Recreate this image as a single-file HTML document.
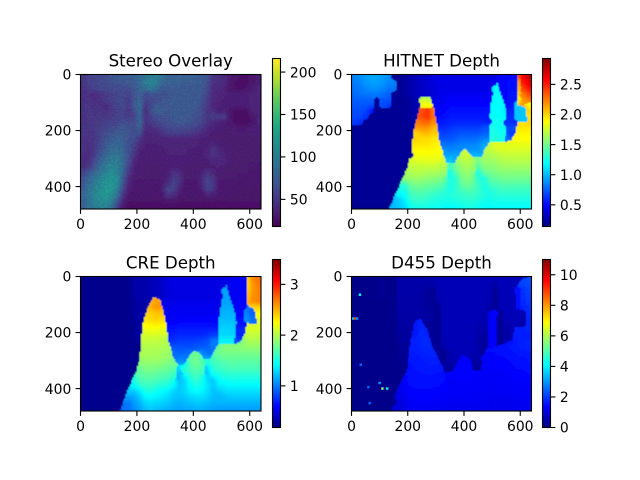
<!DOCTYPE html>
<html lang="en">
<head>
<meta charset="utf-8">
<title>Depth comparison</title>
<style>
html,body{margin:0;padding:0;background:#fff;width:640px;height:480px;overflow:hidden}
svg{display:block}
text{font-family:"DejaVu Sans","Liberation Sans",sans-serif;fill:#000}
</style>
</head>
<body>
<svg id="fig" xmlns="http://www.w3.org/2000/svg" width="640" height="480" viewBox="0 0 640 480">
<defs>
<filter id="soft" x="-5%" y="-5%" width="110%" height="110%"><feGaussianBlur stdDeviation="0.5"/></filter>
<filter id="grain" x="0" y="0" width="100%" height="100%">
<feTurbulence type="fractalNoise" baseFrequency="0.75" numOctaves="2" seed="7"/>
<feColorMatrix type="matrix" values="0 0 0 0 1  0 0 0 0 1  0 0 0 0 1  3.5 0 0 0 -1.6"/>
</filter>
</defs>
<rect width="640" height="480" fill="#fff"/>
</svg>
<script>
const xTickLabels = [0, 200, 400, 600];
const yTickLabels = [0, 200, 400];
const overlayTicks = [50, 100, 150, 200];
const hitnetTicks = [0.5, 1.0, 1.5, 2.0, 2.5];
const creTicks = [1, 2, 3];
const d455Ticks = [0, 2, 4, 6, 8, 10];
const overlayRange = [18, 216];
const hitnetRange = [0.14, 2.93];
const creRange = [0.18, 3.49];
const d455Range = [0, 11];

/* Stereo overlay intensity, 32 columns by 24 rows */
const overlayGrid = [
[50,56,56,60,62,68,70,72,74,76,82,90,96,98,88,78,76,80,74,78,74,72,66,46,44,40,32,29,27,27,30,34],
[46,54,56,58,60,64,66,68,68,72,82,96,104,94,80,76,76,76,72,72,72,72,62,44,42,40,30,27,26,27,30,34],
[44,50,54,58,58,58,60,60,62,68,78,86,94,80,70,70,70,70,70,70,70,70,58,42,40,36,30,27,27,28,33,36],
[44,44,42,46,50,54,56,58,54,64,76,60,66,66,66,66,70,70,70,70,70,70,56,40,38,36,34,34,34,34,36,36],
[44,46,42,44,50,54,58,58,50,68,80,58,58,60,66,68,70,70,70,70,70,64,52,40,36,34,34,34,34,34,36,36],
[44,48,44,44,40,50,56,58,50,68,85,46,58,70,68,70,70,70,70,70,70,62,50,38,36,34,34,34,34,34,36,36],
[44,48,46,48,44,48,54,56,48,60,82,42,62,76,72,68,70,70,70,70,66,60,46,42,34,36,30,26,26,28,36,36],
[44,48,48,48,48,50,54,56,50,56,78,44,54,62,64,66,70,70,70,68,64,58,46,52,48,52,28,25,24,24,30,36],
[44,48,50,50,52,54,56,60,58,60,80,46,50,56,60,64,66,68,68,66,62,56,46,40,36,34,30,26,24,24,28,36],
[46,48,48,52,56,58,64,68,66,62,74,42,42,46,52,58,60,60,60,58,54,48,40,36,34,32,32,32,30,32,34,34],
[46,46,48,56,62,66,72,72,66,62,62,38,38,40,44,50,52,52,50,48,44,42,36,34,32,32,32,32,32,32,34,34],
[44,46,48,56,66,72,76,72,66,60,48,36,36,36,38,38,38,38,38,38,36,34,34,32,32,32,32,32,32,32,32,32],
[44,44,48,58,70,78,80,76,64,54,40,35,35,35,36,36,36,36,36,36,36,34,34,38,34,32,32,32,32,32,32,32],
[46,42,48,62,74,84,84,78,64,50,36,34,34,34,34,36,36,36,36,34,34,34,36,46,38,34,32,32,32,32,32,32],
[42,42,52,70,80,90,90,80,64,46,34,33,33,33,33,35,35,35,35,35,33,35,38,44,40,36,32,32,32,32,32,32],
[42,44,60,76,88,96,96,84,60,38,33,33,33,33,33,33,35,35,33,33,33,33,33,38,38,38,33,32,32,32,32,32],
[44,50,68,84,94,102,98,82,54,36,32,32,32,32,32,34,34,34,32,32,32,32,32,34,36,33,32,32,32,32,30,30],
[56,70,80,90,100,108,102,78,48,34,32,32,32,32,32,34,44,42,32,32,32,36,46,38,32,32,32,32,32,32,30,30],
[64,80,90,100,110,114,108,74,42,33,32,32,32,32,32,36,50,46,32,32,32,38,54,46,32,32,32,32,30,30,30,30],
[68,84,95,105,114,116,106,68,38,31,30,30,30,30,32,42,56,44,30,30,30,38,56,48,30,30,30,30,30,30,30,30],
[74,90,100,110,116,116,98,58,34,30,30,30,30,30,34,58,54,36,30,30,30,34,54,46,30,30,30,30,29,29,29,29],
[80,90,104,112,118,110,88,48,31,30,30,30,30,30,30,46,42,32,30,30,30,30,36,34,30,30,28,28,28,28,28,28],
[76,90,100,106,112,100,72,38,28,28,28,28,28,28,28,30,30,28,28,28,28,28,28,28,28,28,28,28,28,28,28,28],
[80,86,96,100,100,88,54,30,26,26,26,26,26,26,26,26,26,26,26,26,26,26,26,26,26,26,26,26,26,26,26,26]
];

/* HITNET depth in centimetres */
const hitnetGrid = [
[85,88,92,95,95,92,88,20,20,22,26,30,33,36,40,42,42,42,42,42,42,42,42,42,42,42,50,50,50,230,260,275],
[82,85,90,92,92,90,85,85,20,22,26,30,33,36,40,42,42,42,42,42,42,42,42,42,42,45,50,50,52,215,250,265],
[80,82,85,88,88,85,82,80,20,22,26,30,33,35,38,42,42,42,42,42,42,42,42,42,42,115,48,50,52,210,240,255],
[78,80,82,82,82,80,75,22,20,22,26,30,33,35,38,42,45,45,45,45,45,45,45,45,45,118,50,50,55,200,225,240],
[75,75,75,75,22,72,72,22,20,20,24,28,170,170,42,42,45,48,48,48,48,48,48,48,48,118,118,50,55,190,215,225],
[72,72,72,70,22,70,65,20,20,20,24,28,185,190,45,45,48,50,50,50,50,50,50,50,50,118,118,52,55,103,215,190],
[70,70,68,55,20,20,20,20,20,20,22,26,235,245,225,48,50,52,52,52,52,52,52,52,52,120,118,112,58,103,103,200],
[68,68,62,20,20,20,20,20,20,20,22,24,238,245,228,50,52,55,55,55,55,55,55,55,55,120,120,115,60,103,103,195],
[65,60,20,20,20,20,20,20,20,20,22,225,228,232,220,55,55,58,58,58,58,58,58,58,58,122,122,60,60,200,195,200],
[20,20,20,20,20,20,20,20,20,20,22,215,218,218,208,60,60,62,65,65,65,65,65,70,124,124,120,65,70,195,195,195],
[20,20,20,20,20,20,20,20,20,20,20,200,205,207,202,70,65,68,70,72,72,72,72,75,125,125,122,70,65,190,190,190],
[20,20,20,20,20,20,20,20,20,20,20,200,198,198,195,195,72,72,75,78,78,78,80,85,128,128,125,80,70,188,188,188],
[20,20,20,20,20,20,20,20,20,20,20,195,195,195,192,190,80,80,82,85,85,85,88,95,170,180,180,180,182,182,182,182],
[20,20,20,20,20,20,20,20,20,20,20,190,190,190,190,188,90,85,88,88,90,90,90,95,170,175,178,178,178,178,178,178],
[20,20,20,20,20,20,20,20,20,20,20,185,185,185,185,185,95,95,95,170,175,100,100,165,165,168,170,172,172,172,172,172],
[20,20,20,20,20,20,20,20,20,20,178,178,180,180,180,178,175,105,95,165,170,165,150,160,160,162,165,168,168,168,168,168],
[20,20,20,20,20,20,20,20,20,20,170,172,172,172,172,170,165,135,150,160,165,160,140,155,155,158,160,162,162,162,162,162],
[20,20,20,20,20,20,20,20,20,20,165,168,168,165,165,163,160,125,140,155,160,155,125,145,150,152,155,155,155,155,155,155],
[20,20,20,20,20,20,20,20,20,160,160,162,160,158,156,155,150,125,130,150,155,150,130,125,142,146,148,150,150,150,150,150],
[20,20,20,20,20,20,20,20,20,135,150,152,152,150,148,146,140,125,130,145,150,145,135,125,135,140,142,142,142,142,142,142],
[20,20,20,20,20,20,20,20,125,125,140,145,145,142,140,138,132,125,130,138,142,140,135,125,128,132,135,135,135,135,135,135],
[20,20,20,20,20,20,20,20,115,120,135,138,138,135,132,130,128,128,130,132,135,135,132,128,125,128,130,130,130,130,130,130],
[20,20,20,20,20,20,20,100,105,115,130,132,132,130,128,126,125,125,126,128,130,130,128,125,122,125,125,125,125,125,125,125],
[18,18,18,18,18,18,18,100,105,110,122,125,125,125,122,122,120,120,120,122,125,125,122,120,120,120,120,120,120,120,120,120]
];

/* Image-coordinate outlines of depth regions in the HITNET panel */
const hitnetEdgeColumns = [134,166,198,214,220,233,249,261,279,293,305,315,329,338,368,386,404,421,436,463,475,490,546,570,585,590,625,617,588,588,590,640,640];
const hitnetEdgeRows = [480,406,335,270,204,157,91,80,82,121,192,246,293,315,315,281,266,281,296,296,264,242,240,232,204,169,169,115,109,68,0,0,480];
const hitnetPatchColumns = [517,500,488,488,546,552,530];
const hitnetPatchRows = [30,80,180,250,250,133,70];

/* CRE depth in centimetres */
const creGrid = [
[22,22,22,22,22,22,22,22,22,32,32,32,35,38,42,48,50,50,50,50,50,50,50,50,50,50,55,55,55,235,262,270],
[22,22,22,22,22,22,22,22,22,32,32,32,35,38,42,48,50,50,50,50,50,50,50,50,50,50,55,55,55,235,258,268],
[22,22,22,22,22,22,22,22,22,30,32,32,35,38,42,48,50,50,50,50,50,50,50,50,50,110,55,55,58,240,258,265],
[22,22,22,22,22,22,22,22,22,30,32,32,35,35,42,48,50,50,50,50,50,50,50,50,52,112,55,55,58,245,260,265],
[22,22,22,22,22,22,22,22,22,28,30,30,250,255,50,50,52,52,52,52,52,52,52,52,52,112,112,55,60,250,262,265],
[22,22,22,22,22,22,22,22,22,28,30,30,250,260,52,52,55,55,55,55,55,55,55,55,52,115,115,58,60,100,235,240],
[22,22,22,22,22,22,22,22,22,28,30,30,240,245,245,55,55,55,55,55,55,55,55,55,55,118,118,58,60,100,90,225],
[22,22,22,22,22,22,22,22,22,28,30,235,238,240,238,55,55,58,58,58,58,58,58,58,58,120,120,118,62,105,95,220],
[22,22,22,22,22,22,22,22,22,25,28,228,230,232,228,60,60,62,62,62,62,62,62,62,122,125,125,122,65,215,210,215],
[22,22,22,22,22,22,22,22,22,25,30,218,220,220,218,65,65,68,68,68,68,68,68,70,128,128,128,125,72,212,212,212],
[22,22,22,22,22,22,22,22,22,25,30,210,212,212,210,70,70,72,72,72,72,72,75,80,130,130,130,70,70,205,205,205],
[22,22,22,22,22,22,22,22,22,22,28,205,205,205,202,200,75,78,78,78,80,82,85,100,138,138,138,85,180,198,198,198],
[22,22,22,22,22,22,22,22,22,22,22,200,200,200,198,198,85,85,85,85,88,88,90,100,175,185,185,185,188,190,190,190],
[22,22,22,22,22,22,22,22,22,22,22,198,198,198,195,192,95,90,92,95,175,105,95,95,178,182,182,182,182,182,182,182],
[22,22,22,22,22,22,22,22,22,22,22,195,195,195,192,190,95,100,100,175,182,165,110,165,172,175,175,175,175,175,175,175],
[22,22,22,22,22,22,22,22,22,22,188,188,188,188,185,182,180,110,145,170,178,170,150,160,165,168,170,170,170,170,170,170],
[22,22,22,22,22,22,22,22,22,22,175,182,182,180,178,175,170,130,155,165,172,165,130,155,158,162,165,165,165,165,165,165],
[22,22,22,22,22,22,22,22,22,22,170,175,175,172,170,168,160,120,145,158,165,158,125,145,150,155,155,155,155,155,155,155],
[22,22,22,22,22,22,22,22,22,150,165,168,168,165,162,160,150,120,130,150,158,150,130,125,142,145,148,148,148,148,148,148],
[22,22,22,22,22,22,22,22,22,140,155,160,160,155,152,150,140,125,130,145,150,145,135,125,135,138,140,140,140,140,140,140],
[22,22,22,22,22,22,22,22,125,125,135,150,150,145,142,138,128,125,130,138,142,140,132,122,125,130,132,132,132,132,132,132],
[22,22,22,22,22,22,22,22,110,115,125,140,142,138,135,130,125,122,125,130,132,132,128,122,120,122,125,125,125,125,125,125],
[22,22,22,22,22,22,22,22,100,110,118,130,132,130,128,125,120,118,120,122,125,125,122,118,118,118,118,118,118,118,118,118],
[22,22,22,22,22,22,22,95,98,105,112,122,125,122,120,118,115,113,115,115,118,118,115,113,112,112,112,112,112,112,112,112]
];

/* Image-coordinate outlines of depth regions in the CRE panel */
const creEdgeColumns = [140,170,197,211,220,235,259,282,300,312,330,344,365,383,405,425,439,460,478,490,544,567,585,589,627,615,589,589,640,640];
const creEdgeRows = [480,400,340,292,173,120,72,84,149,233,292,313,314,287,263,275,296,296,257,241,241,233,203,167,170,113,111,0,0,480];
const crePatchColumns = [517,500,488,488,544,553,550,526];
const crePatchRows = [30,90,180,250,250,167,137,66];

/* D455 depth in centimetres */
const d455Grid = [
[12,12,12,12,12,20,12,12,45,45,45,45,45,45,50,60,60,60,60,60,60,60,60,60,60,60,60,60,60,60,210,220],
[12,12,12,12,12,22,12,15,45,45,45,45,45,42,42,60,60,60,60,60,60,60,60,60,55,38,60,60,60,60,205,215],
[12,12,12,12,12,22,12,15,45,45,45,45,45,30,22,60,60,60,60,60,60,60,60,60,55,28,60,60,60,155,190,205],
[12,12,12,12,12,22,12,15,42,42,42,42,42,28,22,55,60,60,60,60,60,60,60,60,50,25,58,60,60,150,185,200],
[12,12,12,12,12,12,12,12,40,42,42,42,42,28,22,45,60,60,60,60,60,60,60,60,50,25,58,60,60,150,180,195],
[12,12,12,12,12,12,12,12,40,42,42,42,42,30,22,30,60,60,60,60,60,60,60,60,40,30,60,60,60,145,175,185],
[12,12,12,12,12,12,12,12,38,42,42,42,42,35,24,24,60,60,60,60,60,60,60,52,125,140,30,60,60,60,60,180],
[12,12,12,12,12,12,12,12,38,40,40,40,40,45,28,22,60,60,60,60,60,60,60,52,125,140,28,60,60,60,45,175],
[12,12,12,12,12,12,12,12,35,38,38,160,175,22,22,22,60,60,60,60,60,60,52,50,125,140,28,52,55,55,40,175],
[12,12,12,12,12,12,12,12,32,35,38,160,178,28,25,22,60,60,60,60,60,60,50,42,125,140,28,42,55,170,170,175],
[12,12,12,12,12,12,12,12,30,32,38,165,180,170,25,22,60,60,60,60,60,60,45,32,125,140,25,42,45,170,170,165],
[12,12,12,12,12,12,12,12,25,30,38,170,180,178,30,22,58,60,60,60,60,60,38,30,125,140,25,45,150,165,170,175],
[12,12,12,12,12,12,12,12,22,28,170,170,176,178,25,25,48,60,60,60,60,60,42,35,125,125,155,155,160,165,170,175],
[12,12,12,12,12,12,12,12,20,25,165,165,170,175,175,28,25,48,60,60,60,60,50,30,145,145,150,150,155,160,160,165],
[12,12,12,12,12,12,12,12,18,22,165,162,166,170,170,25,22,44,55,135,135,45,42,135,140,140,142,145,150,155,155,160],
[12,12,12,12,12,12,12,12,16,16,155,160,162,165,167,165,30,38,50,135,145,35,35,140,135,135,140,140,145,150,150,155],
[12,12,12,12,12,12,12,12,14,14,155,157,160,160,162,160,40,30,135,140,142,130,30,130,130,132,135,135,140,145,145,150],
[12,12,12,12,12,12,12,12,14,14,150,152,155,156,156,155,150,135,135,140,140,135,135,130,130,130,132,132,135,140,140,145],
[12,12,12,12,12,12,12,12,14,135,150,150,150,152,152,152,145,132,132,135,135,132,130,128,128,128,130,130,132,135,135,138],
[12,12,12,12,12,12,12,12,12,130,145,147,147,147,147,145,140,132,130,132,132,130,128,126,126,126,128,128,130,132,132,135],
[12,12,12,12,12,12,12,12,115,125,140,143,143,143,140,140,136,130,128,130,130,128,126,125,125,125,126,126,128,130,130,132],
[12,12,12,12,12,12,12,14,110,120,135,137,137,137,135,135,130,126,126,128,128,126,125,125,122,122,122,122,124,125,125,128],
[12,12,12,12,12,12,12,12,105,115,130,133,133,133,130,130,126,124,124,124,124,124,124,122,120,120,120,120,122,122,122,125],
[12,12,12,12,12,12,12,100,100,110,125,130,130,130,127,125,124,122,122,122,122,122,122,120,118,118,118,118,120,120,120,122]
];

/* Image-coordinate outlines of depth regions in the D455 panel */
const d455EdgeColumns = [142,160,196,208,225,243,267,290,320,332,362,392,421,433,457,480,516,570,585,582,610,640,640];
const d455EdgeRows = [480,410,340,244,160,150,185,257,316,346,335,280,292,335,335,257,250,227,173,42,6,0,480];
const d455PatchColumns = [501,487,487,516,513];
const d455PatchRows = [120,125,256,256,137];

/* Isolated D455 outlier readings in image coordinates and centimetres */
const speckleColumn = [30, 6, 13, 20, 110, 127, 100, 60, 65, 33];
const speckleRow = [65, 150, 150, 150, 400, 400, 380, 395, 452, 315];
const speckleDepth = [420, 350, 880, 300, 560, 400, 300, 250, 250, 250];

const imageWidth = 640;
const imageHeight = 480;
const svgNS = 'http://www.w3.org/2000/svg';
const fig = document.getElementById('fig');

const viridisStops = ['#440154','#482475','#414487','#355f8d','#2a788e','#21918c','#22a884','#44bf70','#7ad151','#bddf26','#fde725'];

function viridis(t) {
  t = Math.max(0, Math.min(1, t));
  const p = t * (viridisStops.length - 1);
  const i = Math.min(viridisStops.length - 2, Math.floor(p));
  const f = p - i;
  const a = parseInt(viridisStops[i].slice(1), 16);
  const b = parseInt(viridisStops[i + 1].slice(1), 16);
  const ch = s => Math.round(((a >> s) & 255) * (1 - f) + ((b >> s) & 255) * f);
  return 'rgb(' + ch(16) + ',' + ch(8) + ',' + ch(0) + ')';
}

function jet(t) {
  t = Math.max(0, Math.min(1, t));
  const clip = v => Math.round(255 * Math.max(0, Math.min(1, v)));
  const r = Math.min(4 * t - 1.5, -4 * t + 4.5);
  const g = Math.min(4 * t - 0.5, -4 * t + 3.5);
  const b = Math.min(4 * t + 0.5, -4 * t + 2.5);
  return 'rgb(' + clip(r) + ',' + clip(g) + ',' + clip(b) + ')';
}

function node(tag, attrs, parent) {
  const el = document.createElementNS(svgNS, tag);
  for (const k in attrs) el.setAttribute(k, attrs[k]);
  parent.appendChild(el);
  return el;
}

function insideOutline(columns, rows, x, y) {
  let inside = false;
  for (let i = 0, j = columns.length - 1; i < columns.length; j = i++) {
    if ((rows[i] > y) !== (rows[j] > y) &&
        x < (columns[j] - columns[i]) * (y - rows[i]) / (rows[j] - rows[i]) + columns[i]) {
      inside = !inside;
    }
  }
  return inside;
}

/* Index of the first outline holding the point, or 0 for the background. */
function regionAt(outlines, x, y) {
  for (let k = 0; k < outlines.length; k++) {
    if (insideOutline(outlines[k][0], outlines[k][1], x, y)) return k + 1;
  }
  return 0;
}

/* Reads the grid at a fractional position. Only cells in the same region
   contribute, and strong steps stay on one side so edges stay crisp. */
function sampleGrid(p, mask, u, v, side) {
  const grid = p.grid;
  const rows = grid.length;
  const cols = grid[0].length;
  const fi = Math.floor(u);
  const fj = Math.floor(v);
  const i0 = Math.max(0, Math.min(cols - 1, fi));
  const j0 = Math.max(0, Math.min(rows - 1, fj));
  const i1 = Math.max(0, Math.min(cols - 1, fi + 1));
  const j1 = Math.max(0, Math.min(rows - 1, fj + 1));
  const fu = Math.max(0, Math.min(1, u - fi));
  const fv = Math.max(0, Math.min(1, v - fj));
  const spots = [[j0, i0, (1 - fu) * (1 - fv)], [j0, i1, fu * (1 - fv)], [j1, i0, (1 - fu) * fv], [j1, i1, fu * fv]];
  let kept = mask ? spots.filter(s => mask[s[0]][s[1]] === side) : spots;
  if (kept.length === 0) {
    let best = null;
    let bestDist = Infinity;
    for (let j = Math.max(0, j0 - 3); j <= Math.min(rows - 1, j0 + 3); j++) {
      for (let i = Math.max(0, i0 - 3); i <= Math.min(cols - 1, i0 + 3); i++) {
        if (mask[j][i] !== side) continue;
        const d = (i - u) * (i - u) + (j - v) * (j - v);
        if (d < bestDist) { bestDist = d; best = [j, i, 1]; }
      }
    }
    kept = best ? [best] : spots;
  }
  let total = 0;
  let mean = 0;
  kept.forEach(s => { total += s[2]; });
  if (total <= 0) {
    kept = [[kept[0][0], kept[0][1], 1]];
    total = 1;
  }
  kept.forEach(s => { mean += grid[s[0]][s[1]] * s[2] / total; });
  const vals = kept.map(s => grid[s[0]][s[1]]);
  const lo = Math.min(...vals);
  const hi = Math.max(...vals);
  if (hi - lo < p.edgeGap) return mean;
  const mid = (lo + hi) / 2;
  const upper = mean >= mid;
  let sum = 0;
  let weight = 0;
  kept.forEach(s => {
    const q = grid[s[0]][s[1]];
    if ((q >= mid) === upper) { sum += q * s[2]; weight += s[2]; }
  });
  return weight > 0 ? sum / weight : mean;
}

function drawPanel(p) {
  const panel = node('g', {}, fig);
  
  
  const axisX = v => p.left + v / imageWidth * p.width;
  const axisY = v => p.top + v / imageHeight * p.height;
  const norm = v => (v * p.unit - p.range[0]) / (p.range[1] - p.range[0]);

  const clip = node('clipPath', { id: 'clip-' + p.key }, fig.querySelector('defs'));
  node('rect', { x: p.left, y: p.top, width: p.width, height: p.height }, clip);

  const clipped = node('g', { 'clip-path': 'url(#clip-' + p.key + ')' }, panel);
  
  
  const soft = node('g', { filter: 'url(#soft)' }, clipped);

  const gridRows = p.grid.length;
  const gridCols = p.grid[0].length;
  const cellW = imageWidth / gridCols;
  const cellH = imageHeight / gridRows;
  const outlines = p.outlines || null;
  const mask = outlines ? p.grid.map((row, j) => row.map((_, i) =>
    regionAt(outlines, (i + 0.5) * cellW, (j + 0.5) * cellH))) : null;

  const rows = gridRows * p.sub;
  const cols = gridCols * p.sub;
  for (let r = 0; r < rows; r++) {
    const v = (r + 0.5) / p.sub - 0.5;
    const rowY = (r + 0.5) * imageHeight / rows;
    const colour = q => {
      const colX = (q + 0.5) * imageWidth / cols;
      const side = outlines ? regionAt(outlines, colX, rowY) : 0;
      return p.cmap(norm(sampleGrid(p, mask, (q + 0.5) / p.sub - 0.5, v, side)));
    };
    let c = 0;
    let fill = colour(0);
    while (c < cols) {
      let end = c + 1;
      let next = null;
      while (end < cols) {
        next = colour(end);
        if (next !== fill) break;
        end++;
      }
      let x0 = axisX(c * imageWidth / cols);
      let x1 = axisX(end * imageWidth / cols);
      let y0 = axisY(r * imageHeight / rows);
      let y1 = axisY((r + 1) * imageHeight / rows);
      if (c === 0) x0 -= 6;
      if (end === cols) x1 += 6;
      if (r === 0) y0 -= 6;
      if (r === rows - 1) y1 += 6;
      const cell = node('rect', {
        x: x0.toFixed(2), y: y0.toFixed(2),
        width: (x1 - x0 + 0.3).toFixed(2), height: (y1 - y0 + 0.3).toFixed(2),
        fill: fill, 'shape-rendering': 'crispEdges'
      }, soft);
      
      
      c = end;
      fill = next;
    }
  }

  if (p.grain) {
    const grain = node('rect', { x: p.left, y: p.top, width: p.width, height: p.height, fill: '#fff', filter: 'url(#grain)', opacity: 0.18, style: 'mix-blend-mode:overlay' }, clipped);
    
    
  }

  if (p.speckles) {
    p.speckles.x.forEach((sx, i) => {
      const dot = node('rect', {
        x: (axisX(sx) - 1.2).toFixed(2), y: (axisY(p.speckles.y[i]) - 1.2).toFixed(2),
        width: 2.4, height: 2.4, fill: p.cmap(norm(p.speckles.v[i]))
      }, clipped);
      
      
    });
  }

  const frame = node('rect', { x: p.left, y: p.top, width: p.width, height: p.height, fill: 'none', stroke: '#000', 'stroke-width': 1.1 }, panel);
  
  

  xTickLabels.forEach(v => {
    const x = axisX(v);
    const bottom = p.top + p.height;
    const tick = node('line', { x1: x, x2: x, y1: bottom, y2: bottom + 4.9, stroke: '#000', 'stroke-width': 1.1 }, panel);
    
    
    const label = node('text', { x: x, y: bottom + 20, 'font-size': 13.9, 'text-anchor': 'middle' }, panel);
    label.textContent = String(v);
    
    
  });

  yTickLabels.forEach(v => {
    const y = axisY(v);
    const tick = node('line', { x1: p.left - 4.9, x2: p.left, y1: y, y2: y, stroke: '#000', 'stroke-width': 1.1 }, panel);
    
    
    const label = node('text', { x: p.left - 9.2, y: y + 5.2, 'font-size': 13.9, 'text-anchor': 'end' }, panel);
    label.textContent = String(v);
    
    
  });

  const title = node('text', { x: p.left + p.width / 2, y: p.top - 8.2, 'font-size': 16.67, 'text-anchor': 'middle' }, panel);
  title.textContent = p.title;
  
  

  const gradient = node('linearGradient', { id: 'bar-' + p.key, x1: 0, y1: 1, x2: 0, y2: 0 }, fig.querySelector('defs'));
  for (let i = 0; i <= 32; i++) {
    node('stop', { offset: i / 32, 'stop-color': p.cmap(i / 32) }, gradient);
  }
  const bar = node('rect', { x: p.barLeft, y: p.barTop, width: p.barWidth, height: p.barHeight, fill: 'url(#bar-' + p.key + ')', stroke: '#000', 'stroke-width': 1.1 }, panel);
  
  

  const barY = v => p.barTop + p.barHeight * (1 - (v - p.range[0]) / (p.range[1] - p.range[0]));
  p.ticks.forEach(v => {
    const y = barY(v);
    const right = p.barLeft + p.barWidth;
    const tick = node('line', { x1: right, x2: right + 4.9, y1: y, y2: y, stroke: '#000', 'stroke-width': 1.1 }, panel);
    
    
    const label = node('text', { x: right + 9.4, y: y + 5.2, 'font-size': 13.9 }, panel);
    label.textContent = p.tickDigits ? v.toFixed(p.tickDigits) : String(v);
    
    
  });
}

drawPanel({ key: 'stereo-overlay', title: 'Stereo Overlay', grid: overlayGrid, unit: 1, range: overlayRange, cmap: viridis, ticks: overlayTicks, tickDigits: 0, edgeGap: 1000, sub: 3, grain: true,
  left: 80.5, top: 74.5, width: 180.5, height: 134.5, barLeft: 272.5, barTop: 58.5, barWidth: 8, barHeight: 168 });
drawPanel({ key: 'hitnet-depth', title: 'HITNET Depth', grid: hitnetGrid, unit: 0.01, range: hitnetRange, cmap: jet, ticks: hitnetTicks, tickDigits: 1, edgeGap: 35, sub: 4,
  outlines: [[hitnetEdgeColumns, hitnetEdgeRows], [hitnetPatchColumns, hitnetPatchRows]],
  left: 351.5, top: 74.5, width: 180, height: 134.5, barLeft: 542.5, barTop: 58.5, barWidth: 8, barHeight: 168 });
drawPanel({ key: 'cre-depth', title: 'CRE Depth', grid: creGrid, unit: 0.01, range: creRange, cmap: jet, ticks: creTicks, tickDigits: 0, edgeGap: 35, sub: 4,
  outlines: [[creEdgeColumns, creEdgeRows], [crePatchColumns, crePatchRows]],
  left: 80.5, top: 276.5, width: 180.5, height: 134.5, barLeft: 272.5, barTop: 259.5, barWidth: 8, barHeight: 168 });
drawPanel({ key: 'd455-depth', title: 'D455 Depth', grid: d455Grid, unit: 0.01, range: d455Range, cmap: jet, ticks: d455Ticks, tickDigits: 0, edgeGap: 20, sub: 4,
  outlines: [[d455EdgeColumns, d455EdgeRows], [d455PatchColumns, d455PatchRows]],
  speckles: { x: speckleColumn, y: speckleRow, v: speckleDepth },
  left: 351.5, top: 276.5, width: 180, height: 134.5, barLeft: 542.5, barTop: 259.5, barWidth: 8, barHeight: 168 });
</script>
</body>
</html>
